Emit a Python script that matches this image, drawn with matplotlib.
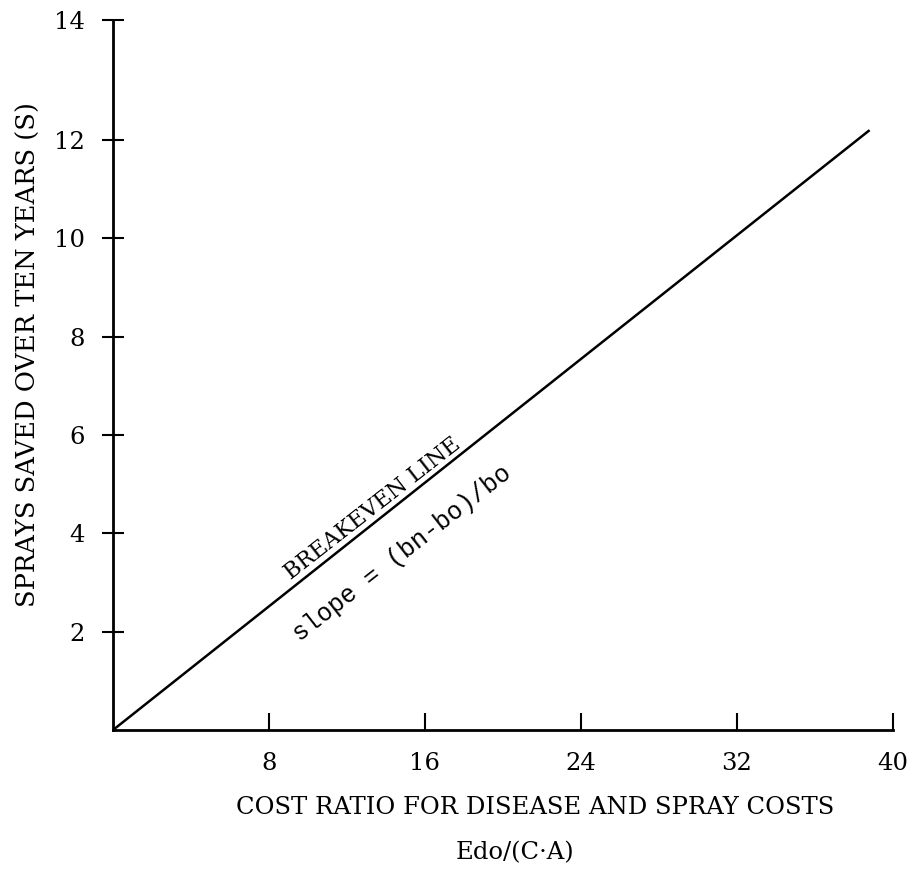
import matplotlib
matplotlib.use('Agg')
import matplotlib.pyplot as plt

# breakeven line
cost_ratio = [0, 38.8]
sprays_saved = [0, 12.2]

x_ticks = [8, 16, 24, 32, 40]
y_ticks = [2, 4, 6, 8, 10, 12]
y_top = 14.44  # hand drawn axis: the "14" mark sits at the top of the axis

plt.rcParams['font.family'] = ['DejaVu Serif']
fs = 17.5

fig = plt.figure(figsize=(9.16, 8.75), dpi=100)
ax = fig.add_axes([113 / 916, 1 - 730 / 875, (893 - 113) / 916, (730 - 20) / 875])

ax.plot(cost_ratio, sprays_saved, color='black', linewidth=1.8, solid_capstyle='butt')

ax.set_xlim(0, 40)
ax.set_ylim(0, y_top)
for side in ['top', 'right']:
    ax.spines[side].set_visible(False)
for side in ['left', 'bottom']:
    ax.spines[side].set_linewidth(2.0)

ax.set_xticks(x_ticks)
ax.set_xticklabels([str(t) for t in x_ticks])
ax.set_yticks(y_ticks + [y_top])
ax.set_yticklabels([str(t) for t in y_ticks] + ['14'])
ax.tick_params(axis='x', direction='in', length=12, width=1.5, pad=16, labelsize=fs)
ax.tick_params(axis='y', direction='inout', length=16, width=1.5, pad=12, labelsize=fs)

# text along the line
ax.text(13.3, 4.5, 'BREAKEVEN LINE', rotation=38, rotation_mode='anchor',
        ha='center', va='center', fontsize=16)
ax.text(14.8, 3.6, 'slope = (bn-bo)/bo', rotation=38, rotation_mode='anchor',
        ha='center', va='center', fontsize=18, family=['Liberation Mono', 'DejaVu Sans Mono'])

fig.text(535 / 916, 1 - 808 / 875, 'COST RATIO FOR DISEASE AND SPRAY COSTS',
         ha='center', va='center', fontsize=fs)
fig.text(515 / 916, 1 - 853 / 875, 'Edo/(C\u00b7A)',
         ha='center', va='center', fontsize=fs)
fig.text(28 / 916, 1 - 355 / 875, 'SPRAYS SAVED OVER TEN YEARS (S)',
         ha='center', va='center', rotation=90, fontsize=18.5)

fig.savefig('out.png', dpi=100)
